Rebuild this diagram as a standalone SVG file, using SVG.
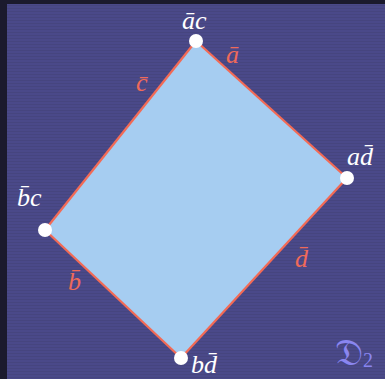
<svg xmlns="http://www.w3.org/2000/svg" width="385" height="379" viewBox="0 0 385 379">
<defs>
<pattern id="stripes" width="4" height="3" patternUnits="userSpaceOnUse">
<rect width="4" height="3" fill="#4a4989"/>
<rect y="2" width="4" height="1" fill="#46457f"/>
</pattern>
<style>
.node{fill:#ffffff}
.vl{font-family:"Liberation Serif","DejaVu Serif",serif;font-style:italic;font-size:26px;fill:#ffffff}
.el{font-family:"Liberation Serif","DejaVu Serif",serif;font-style:italic;font-size:26px;fill:#ef6a59}
.edge{fill:none;stroke:#f36a55;stroke-width:2.2;stroke-linejoin:round}
</style>
</defs>
<rect width="385" height="379" fill="#1b1a2d"/>
<rect x="7" y="4" width="378" height="375" fill="url(#stripes)"/>
<g id="region">
<polygon points="196,41 347,178 181,358 45,230" fill="#a6cdf1"/>
</g>
<g id="connectors">
<line class="edge" x1="196" y1="41" x2="347" y2="178"/>
<line class="edge" x1="347" y1="178" x2="181" y2="358"/>
<line class="edge" x1="181" y1="358" x2="45" y2="230"/>
<line class="edge" x1="45" y1="230" x2="196" y2="41"/>
<text class="el" x="226" y="63">ā</text>
<text class="el" x="136" y="91">c̄</text>
<text class="el" x="68" y="290">b̄</text>
<text class="el" x="295" y="267">d̄</text>
</g>
<g id="n-ac">
<circle class="node" cx="196" cy="41" r="7"/>
<text class="vl" x="182" y="29">āc</text>
</g>
<g id="n-ad">
<circle class="node" cx="347" cy="178" r="7"/>
<text class="vl" x="347" y="165">ad̄</text>
</g>
<g id="n-bc">
<circle class="node" cx="45" cy="230" r="7"/>
<text class="vl" x="17" y="206">b̄c</text>
</g>
<g id="n-bd">
<circle class="node" cx="181" cy="358" r="7"/>
<text class="vl" x="191" y="373">bd̄</text>
</g>
<g id="label">
<text x="335" y="365" font-family="DejaVu Serif,Noto Sans,serif" font-size="38" fill="#8a86f0">𝔇<tspan font-family="Liberation Serif,serif" font-size="20" dy="2">2</tspan></text>
</g>
</svg>
